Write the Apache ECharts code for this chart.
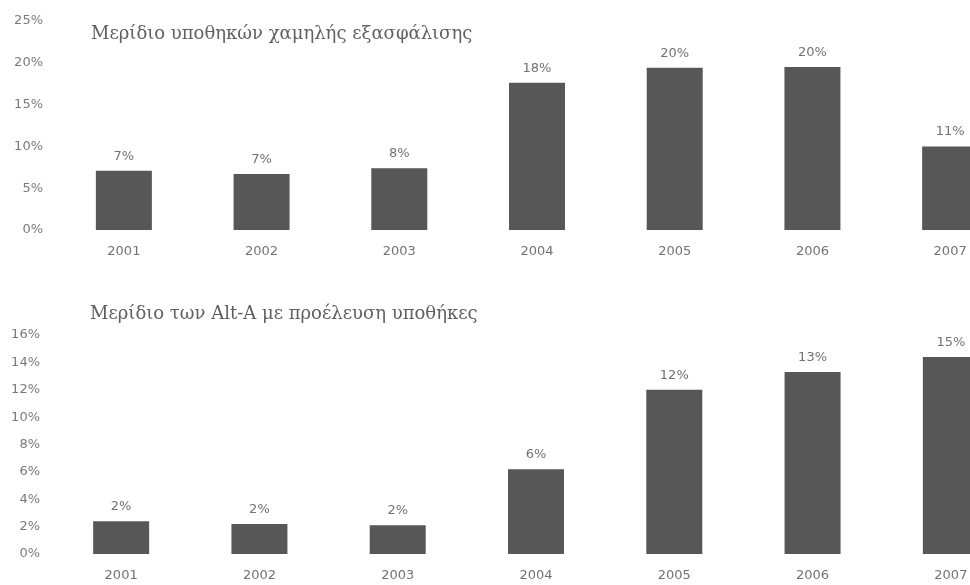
<!DOCTYPE html>
<html><head><meta charset="utf-8">
<script src="https://cdn.jsdelivr.net/npm/echarts@6/dist/echarts.min.js"></script>
<style>html,body{margin:0;padding:0;background:#fff}#c{width:970px;height:585px}</style>
</head><body><div id="c"></div>
<script>
const years = ['2001','2002','2003','2004','2005','2006','2007'];
const titleTop = 'Μερίδιο υποθηκών χαμηλής εξασφάλισης';
const titleBottom = 'Μερίδιο των Alt-A με προέλευση υποθήκες';
const subprimeValues = [7.1, 6.7, 7.4, 17.6, 19.4, 19.5, 10.0];
const subprimeLabels = ['7%','7%','8%','18%','20%','20%','11%'];
const altAValues = [2.4, 2.2, 2.1, 6.2, 12.0, 13.3, 14.4];
const altALabels = ['2%','2%','2%','6%','12%','13%','15%'];

const chart = echarts.init(document.getElementById('c'));
const txt = '#727272';
const barColor = '#575757';
const sans = 'DejaVu Sans';
function xAxis(i){return {type:'category',gridIndex:i,data:years,axisLine:{show:false},axisTick:{show:false},
  axisLabel:{color:txt,fontFamily:sans,fontSize:13,margin:15}};}
function yAxis(i,max,interval){return {type:'value',gridIndex:i,min:0,max:max,interval:interval,splitLine:{show:false},
  axisLine:{show:false},axisTick:{show:false},axisLabel:{color:'#7a7a7a',fontFamily:sans,fontSize:13,margin:12,formatter:'{value}%'}};}
function bars(i,vals,labs){return {type:'bar',xAxisIndex:i,yAxisIndex:i,data:vals,barWidth:56,
  itemStyle:{color:barColor},label:{show:true,position:'top',distance:8,color:txt,fontFamily:sans,fontSize:13,
  formatter:p=>labs[p.dataIndex]}};}
chart.setOption({
  animation:false,
  title:[
    {text:titleTop,left:86,top:20,textStyle:{fontFamily:'DejaVu Serif',fontWeight:'normal',fontSize:18,color:'#606060'}},
    {text:titleBottom,left:85,top:300,textStyle:{fontFamily:'DejaVu Serif',fontWeight:'normal',fontSize:18,color:'#606060'}}
  ],
  grid:[
    {left:55,top:21,width:964,height:209,outerBoundsMode:'none',containLabel:false},
    {left:52,top:335,width:968,height:219,outerBoundsMode:'none',containLabel:false}
  ],
  xAxis:[xAxis(0),xAxis(1)],
  yAxis:[yAxis(0,25,5),yAxis(1,16,2)],
  series:[bars(0,subprimeValues,subprimeLabels),bars(1,altAValues,altALabels)]
});
</script></body></html>
